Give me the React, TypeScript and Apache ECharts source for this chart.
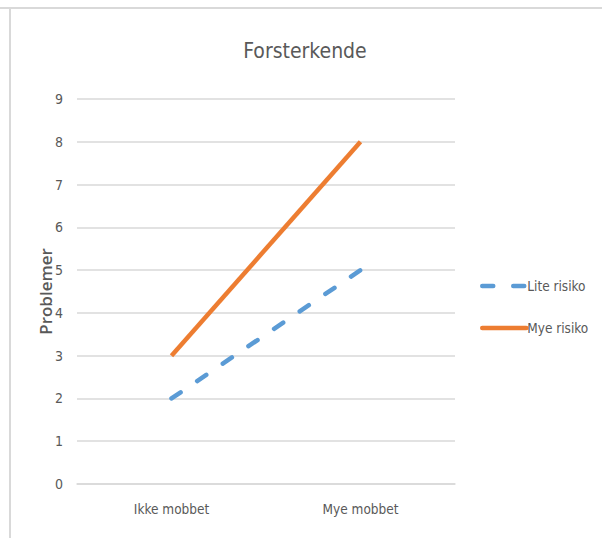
import React, { useEffect, useRef } from "react";
import * as echarts from "echarts";

const categories = ["Ikke mobbet", "Mye mobbet"];
const liteRisiko = [2, 5];
const myeRisiko = [3, 8];
const seriesNames = ["Lite risiko", "Mye risiko"];
const chartTitle = "Forsterkende";
const yAxisName = "Problemer";

const FONT = "'Liberation Sans Narrow', 'DejaVu Sans Condensed', 'Open Sans', sans-serif";

export default function App() {
  const ref = useRef<HTMLDivElement>(null);
  useEffect(() => {
    if (!ref.current) return;
    const chart = echarts.init(ref.current, null, { renderer: "svg" });
    chart.setOption({
      animation: false,
      backgroundColor: "#ffffff",
      textStyle: { fontFamily: FONT },
      title: {
        text: chartTitle,
        left: 300,
        textAlign: "center",
        top: 35,
        textStyle: { fontFamily: FONT, fontSize: 21, fontWeight: "normal", color: "#595959" },
      },
      graphic: [
        { type: "line", shape: { x1: 0, y1: 8, x2: 602, y2: 8 }, style: { stroke: "#d9d9d9", lineWidth: 2 } },
        { type: "line", shape: { x1: 10, y1: 8, x2: 10, y2: 538 }, style: { stroke: "#d9d9d9", lineWidth: 2 } },
      ],
      grid: { left: 77, right: 147, top: 99, bottom: 54 },
      legend: {
        orient: "vertical",
        left: 475,
        top: 274,
        itemWidth: 44,
        itemHeight: 5,
        itemGap: 28,
        data: seriesNames,
        itemStyle: { opacity: 0 },
        lineStyle: { width: 4.5, cap: "round" },
        textStyle: { fontFamily: FONT, fontSize: 13.5, color: "#595959", padding: [0, 0, 0, -4] },
      },
      xAxis: {
        type: "category",
        data: categories,
        boundaryGap: true,
        axisLine: { lineStyle: { color: "#d9d9d9", width: 1.5 } },
        axisTick: { show: false },
        axisLabel: { fontFamily: FONT, fontSize: 13.5, color: "#595959", margin: 18 },
      },
      yAxis: {
        type: "value",
        min: 0,
        max: 9,
        interval: 1,
        name: yAxisName,
        nameLocation: "middle",
        nameGap: 23,
        nameMoveOverlap: false,
        nameTextStyle: { fontFamily: "'Open Sans', sans-serif", fontSize: 17, fontWeight: 600, color: "#595959" },
        axisLine: { show: false },
        axisTick: { show: false },
        splitLine: { lineStyle: { color: "#d9d9d9", width: 1.5 } },
        axisLabel: { fontFamily: FONT, fontSize: 14, color: "#595959", margin: 14 },
      },
      series: [
        {
          name: seriesNames[0],
          type: "line",
          data: liteRisiko,
          symbol: "none",
          itemStyle: { color: "#5b9bd5" },
          lineStyle: { color: "#5b9bd5", width: 4.5, type: [11, 20], cap: "round" },
        },
        {
          name: seriesNames[1],
          type: "line",
          data: myeRisiko,
          symbol: "none",
          itemStyle: { color: "#ed7d31" },
          lineStyle: { color: "#ed7d31", width: 4.5 },
        },
      ],
    });
    return () => chart.dispose();
  }, []);
  return <div ref={ref} style={{ position: "fixed", left: 0, top: 0, width: 602, height: 538 }} />;
}
